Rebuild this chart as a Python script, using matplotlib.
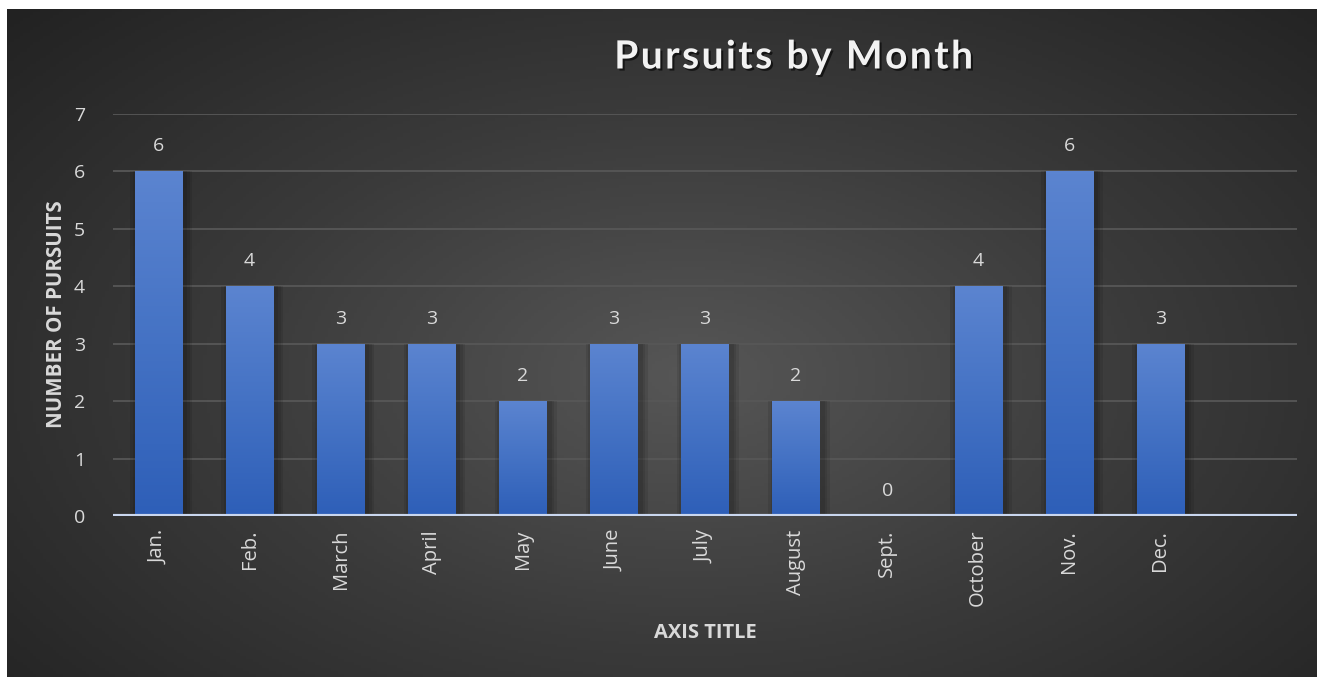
import numpy as np
import matplotlib
matplotlib.use("Agg")
import matplotlib.pyplot as plt
import matplotlib.patheffects as pe
from matplotlib.colors import LinearSegmentedColormap

# ---- data ----
months = ["Jan.", "Feb.", "March", "April", "May", "June", "July",
          "August", "Sept.", "October", "Nov.", "Dec."]
pursuits = [6, 4, 3, 3, 2, 3, 3, 2, 0, 4, 6, 3]
y_ticks = [0, 1, 2, 3, 4, 5, 6, 7]

TITLE = "Pursuits by Month"
Y_LABEL = "NUMBER OF PURSUITS"
X_LABEL = "AXIS TITLE"

W, H = 1317, 677
TEXT_COL = "#d9d9d9"
plt.rcParams['font.family'] = ['Open Sans', 'DejaVu Sans']

fig = plt.figure(figsize=(W / 100, H / 100), dpi=100)
fig.patch.set_facecolor("white")

# dark radial background
bg = fig.add_axes([7 / W, 0, 1 - 7 / W, 1 - 9 / H], zorder=-5)
gx, gy = np.meshgrid(np.linspace(0, 1, 400), np.linspace(0, 1, 220))
d = np.sqrt(((gx - 0.52) / 0.75) ** 2 + ((gy - 0.45) / 0.85) ** 2)
d = np.clip(d, 0, 1)
bg_cmap = LinearSegmentedColormap.from_list("bg", ["#565656", "#3a3a3a", "#222222"])
bg.imshow(d, cmap=bg_cmap, aspect="auto", extent=[0, 1, 0, 1], origin="lower")
bg.set_axis_off()

ax = fig.add_axes([113 / W, 1 - 516 / H, (1297 - 113) / W, (516 - 114) / H])
ax.set_facecolor("none")
for s in ax.spines.values():
    s.set_visible(False)

x = np.arange(len(months))
bar_w = 0.52
bar_cmap = LinearSegmentedColormap.from_list("bar", ["#2e5fb8", "#4472c4", "#5b84d0"])
grad = np.linspace(0, 1, 100).reshape(-1, 1)

bars = ax.bar(x, pursuits, width=bar_w, color="#4472c4", zorder=3)
for b in bars:
    h = b.get_height()
    if h <= 0:
        continue
    # soft shadow around the bar, heavier on the right
    for k, extra in enumerate([0.16, 0.10, 0.05]):
        ax.bar(b.get_x() + b.get_width() / 2 + 0.03, h, width=bar_w + extra,
               color="black", alpha=0.09, zorder=2, linewidth=0)
    im = ax.imshow(grad, cmap=bar_cmap, aspect="auto", origin="lower",
                   extent=[b.get_x(), b.get_x() + b.get_width(), 0, h], zorder=4)
    im.set_clip_path(b)

for xi, v in zip(x, pursuits):
    ax.annotate(str(v), (xi, v), xytext=(0, 18), textcoords="offset points",
                ha="center", va="center", color=TEXT_COL, fontsize=14)

ax.set_xlim(-0.5, len(months) + 0.5)
ax.set_ylim(0, 7)
ax.set_yticks(y_ticks)
ax.grid(axis="y", color="#575757", linewidth=1.3, zorder=0)
ax.axhline(0, color="#c9d6ee", linewidth=3, zorder=6)
ax.set_xticks(x)
ax.set_xticklabels(months, rotation=90, color=TEXT_COL, fontsize=14.5)
ax.tick_params(axis="y", colors=TEXT_COL, labelsize=14, length=0, pad=20)
ax.tick_params(axis="x", length=0, pad=10)

fig.text(57 / W, 1 - 314 / H, Y_LABEL, rotation=90, ha="center", va="center",
         color=TEXT_COL, fontsize=14.8, fontweight="bold")
fig.text(705 / W, 1 - 633 / H, X_LABEL, ha="center", va="center",
         color=TEXT_COL, fontsize=14.5, fontweight="bold")
spaced_title = "\u200a".join(TITLE)
fig.text(793 / W, 1 - 57 / H, spaced_title, ha="center", va="center",
         color="#f2f2f2", fontsize=28, fontweight="bold",
         family=["Lato", "DejaVu Sans"],
         path_effects=[pe.withSimplePatchShadow(offset=(1.5, -1.5), shadow_rgbFace="black", alpha=0.6)])

fig.savefig("out.png", dpi=100)
